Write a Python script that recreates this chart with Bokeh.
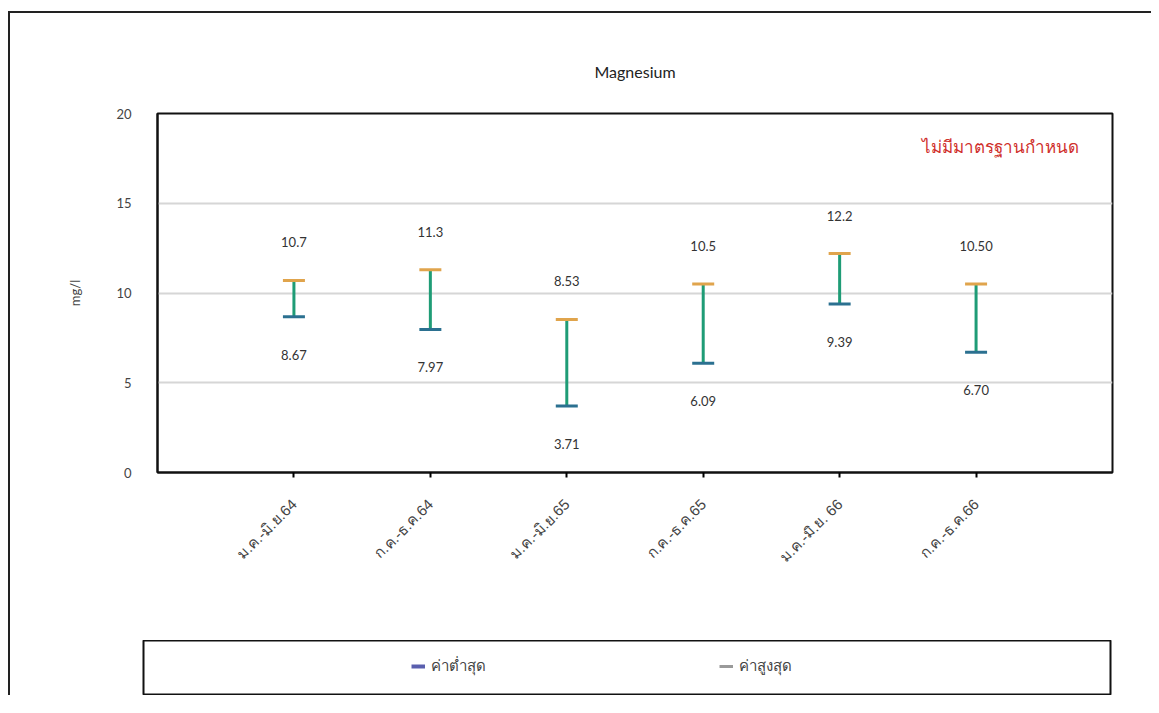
from bokeh.plotting import figure
from bokeh.layouts import column, row
from bokeh.models import (ColumnDataSource, FixedTicker, Range1d, Label, Legend, LegendItem)
from bokeh.core.properties import value
from bokeh.embed import file_html
from bokeh.resources import INLINE
import math

categories = ["ม.ค.-มิ.ย.64", "ก.ค.-ธ.ค.64", "ม.ค.-มิ.ย.65", "ก.ค.-ธ.ค.65", "ม.ค.-มิ.ย. 66", "ก.ค.-ธ.ค.66"]
low_values = [8.67, 7.97, 3.71, 6.09, 9.39, 6.70]
high_values = [10.7, 11.3, 8.53, 10.5, 12.2, 10.50]
low_labels = ["8.67", "7.97", "3.71", "6.09", "9.39", "6.70"]
high_labels = ["10.7", "11.3", "8.53", "10.5", "12.2", "10.50"]
y_ticks = [0, 5, 10, 15, 20]
legend_labels = ["ค่าต่ำสุด", "ค่าสูงสุด"]
title_text = "Magnesium"
y_label = "mg/l"
note_text = "ไม่มีมาตรฐานกำหนด"

FONT = "Lato"
xs = [i + 1 for i in range(len(categories))]
src = ColumnDataSource(dict(x=xs, low=low_values, high=high_values,
                            low_lab=low_labels, high_lab=high_labels))

p = figure(width=1141, height=627, x_range=Range1d(0, len(categories) + 1),
           y_range=Range1d(0, 20), toolbar_location=None, output_backend="svg",
           min_border_left=147, min_border_right=39, min_border_top=100,
           min_border_bottom=168, title=title_text)
p.title.align = "center"
p.title.text_font = FONT
p.title.text_font_size = "16px"
p.title.text_font_style = "normal"
p.title.text_color = "#222222"
p.title.standoff = 66

p.outline_line_color = "#111111"
p.outline_line_width = 2
p.background_fill_color = "white"
p.border_fill_color = "white"

p.xgrid.visible = False
p.ygrid.ticker = FixedTicker(ticks=y_ticks)
p.ygrid.grid_line_color = "#d6d6d6"
p.ygrid.grid_line_width = 2

p.yaxis.ticker = FixedTicker(ticks=y_ticks)
p.yaxis.axis_label = y_label
p.yaxis.axis_label_text_font = FONT
p.yaxis.axis_label_text_font_style = "normal"
p.yaxis.axis_label_text_font_size = "13px"
p.yaxis.axis_label_standoff = 30
p.yaxis.major_tick_out = 0
p.yaxis.major_tick_in = 0
p.yaxis.minor_tick_out = 0
p.yaxis.minor_tick_in = 0
p.yaxis.major_label_standoff = 26
p.yaxis.major_label_text_font = FONT
p.yaxis.major_label_text_font_size = "13px"
p.yaxis.axis_line_color = "#111111"
p.yaxis.axis_line_width = 2

p.xaxis.ticker = FixedTicker(ticks=xs)
p.xaxis.major_label_overrides = {x: c for x, c in zip(xs, categories)}
p.xaxis.major_label_orientation = math.pi / 4
p.xaxis.major_label_text_font_size = "15px"
p.xaxis.major_label_standoff = 24
p.xaxis.major_tick_out = 5
p.xaxis.major_tick_in = 0
p.xaxis.minor_tick_out = 0
p.xaxis.minor_tick_in = 0
p.xaxis.axis_line_color = "#111111"
p.xaxis.axis_line_width = 2
p.xaxis.major_tick_line_width = 2

p.segment(x0="x", y0="low", x1="x", y1="high", source=src,
          line_color="#1f9c76", line_width=3)
p.scatter(x="x", y="high", source=src, marker="dash", size=22,
          line_color="#e0a44c", line_width=3)
p.scatter(x="x", y="low", source=src, marker="dash", size=22,
          line_color="#2b7090", line_width=3)

p.text(x="x", y="high", text="high_lab", source=src, y_offset=-38,
       text_align="center", text_baseline="middle", text_font=value(FONT),
       text_font_size="13px", text_color="#333333")
p.text(x="x", y="low", text="low_lab", source=src, y_offset=38,
       text_align="center", text_baseline="middle", text_font=value(FONT),
       text_font_size="13px", text_color="#333333")

p.add_layout(Label(x=6.18, y=18.1, text=note_text, text_align="center",
                   text_baseline="middle", text_font_size="17px",
                   text_color="#d0302c"))

lf = figure(width=1141, height=55, x_range=(0, 1), y_range=(0, 1),
            x_axis_type=None, y_axis_type=None, toolbar_location=None,
            output_backend="svg", min_border_left=133, min_border_right=41,
            min_border_top=0, min_border_bottom=0)
lf.grid.visible = False
lf.outline_line_color = "#111111"
lf.outline_line_width = 2
r1 = lf.line(x=[-5, -4], y=[-5, -5], line_color="#5a5fae", line_width=4)
r2 = lf.line(x=[-5, -4], y=[-5, -5], line_color="#9a9a9a", line_width=3)
legend = Legend(items=[LegendItem(label=legend_labels[0], renderers=[r1]),
                       LegendItem(label=legend_labels[1], renderers=[r2])],
                orientation="horizontal", location=(268, 17),
                border_line_color=None, background_fill_alpha=0, padding=0,
                spacing=38, label_width=250, glyph_width=14, glyph_height=20,
                label_standoff=6, label_text_font_size="15px")
lf.add_layout(legend)

layout = column(p, row(lf), spacing=0,
                styles={"border-top": "2px solid #222", "border-left": "2px solid #222",
                        "margin-top": "11px", "margin-left": "8px"})

open("out.html", "w").write(file_html(layout, INLINE))
